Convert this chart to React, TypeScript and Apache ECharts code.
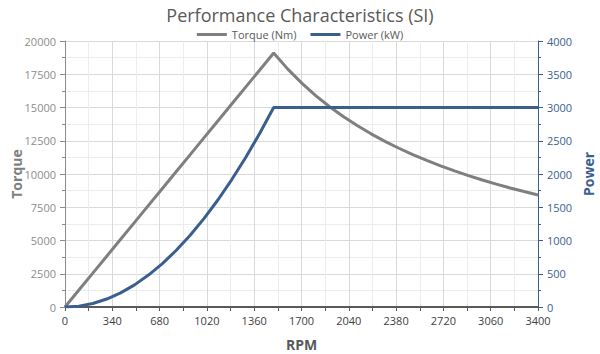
import React, { useEffect, useRef } from "react";
import * as echarts from "echarts";

const rpm = [0, 100, 200, 300, 400, 500, 600, 700, 800, 900, 1000, 1100, 1200, 1300, 1400, 1500,
  1600, 1700, 1800, 1900, 2000, 2100, 2200, 2300, 2400, 2500, 2600, 2700, 2800, 2900, 3000, 3100, 3200, 3300, 3400];
const torque = [0, 1273, 2546, 3820, 5093, 6366, 7639, 8912, 10186, 11459, 12732, 14005, 15278, 16552, 17825, 19098,
  17904, 16851, 15915, 15077, 14324, 13642, 13022, 12455, 11936, 11459, 11018, 10610, 10231, 9878, 9549, 9241, 8952, 8681, 8425];
const power = [0, 13, 53, 120, 213, 333, 480, 653, 853, 1080, 1333, 1613, 1920, 2253, 2613, 3000,
  3000, 3000, 3000, 3000, 3000, 3000, 3000, 3000, 3000, 3000, 3000, 3000, 3000, 3000, 3000, 3000, 3000, 3000, 3000];

const FONT = "'Open Sans', 'Noto Sans', sans-serif";
const GRAY = "#7f7f7f";
const BLUE = "#3a5f8f";
const plain = (v: number) => String(v);

export default function App() {
  const ref = useRef<HTMLDivElement>(null);
  useEffect(() => {
    const chart = echarts.init(ref.current!, null, { renderer: "svg" });
    chart.setOption({
      animation: false,
      textStyle: { fontFamily: FONT },
      title: {
        text: "Performance Characteristics (SI)",
        left: "center",
        top: 1,
        textStyle: { fontFamily: FONT, fontSize: 18, fontWeight: "normal", color: "#595959" },
      },
      legend: {
        top: 24,
        left: "center",
        itemWidth: 30,
        itemHeight: 3,
        itemGap: 14,
        icon: "rect",
        textStyle: { fontFamily: FONT, fontSize: 11, color: "#595959" },
        data: ["Torque (Nm)", "Power (kW)"],
      },
      grid: { left: 65, right: 62, top: 41, bottom: 47, containLabel: false, outerBoundsMode: "none" },
      xAxis: {
        type: "value",
        min: 0,
        max: 3400,
        interval: 340,
        name: "RPM",
        nameLocation: "middle",
        nameGap: 30,
        nameMoveOverlap: false,
        nameTextStyle: { fontFamily: FONT, fontSize: 14, fontWeight: "bold", color: "#595959" },
        axisLine: { lineStyle: { color: "#595959", width: 2 } },
        axisTick: { show: true, length: 4, lineStyle: { color: "#595959" } },
        minorTick: { show: true, splitNumber: 2, length: 4, lineStyle: { color: "#595959" } },
        axisLabel: { fontFamily: FONT, fontSize: 11, color: "#404040", margin: 8, formatter: plain },
        splitLine: { show: true, lineStyle: { color: "#d9d9d9" } },
        minorSplitLine: { show: true, lineStyle: { color: "#ececec" } },
      },
      yAxis: [
        {
          type: "value",
          min: 0,
          max: 20000,
          interval: 2500,
          name: "Torque",
          nameLocation: "middle",
          nameGap: 42,
          nameMoveOverlap: false,
          nameTextStyle: { fontFamily: FONT, fontSize: 14, fontWeight: "bold", color: GRAY },
          axisLine: { show: true, lineStyle: { color: "#8c8c8c" } },
          axisTick: { show: true, length: 5, lineStyle: { color: "#8c8c8c" } },
          minorTick: { show: true, splitNumber: 2, length: 3, lineStyle: { color: "#8c8c8c" } },
          axisLabel: { fontFamily: FONT, fontSize: 11, color: "#8c8c8c", margin: 9, formatter: plain },
          splitLine: { show: true, lineStyle: { color: "#d9d9d9" } },
          minorSplitLine: { show: true, lineStyle: { color: "#ececec" } },
        },
        {
          type: "value",
          min: 0,
          max: 4000,
          interval: 500,
          name: "Power",
          nameLocation: "middle",
          nameGap: 43,
          nameMoveOverlap: false,
          nameTextStyle: { fontFamily: FONT, fontSize: 14, fontWeight: "bold", color: BLUE },
          axisLine: { show: true, lineStyle: { color: BLUE } },
          axisTick: { show: true, length: 5, lineStyle: { color: BLUE } },
          minorTick: { show: true, splitNumber: 2, length: 3, lineStyle: { color: BLUE } },
          axisLabel: { fontFamily: FONT, fontSize: 11, color: BLUE, margin: 9, formatter: plain },
          splitLine: { show: false },
        },
      ],
      series: [
        {
          name: "Torque (Nm)",
          type: "line",
          yAxisIndex: 0,
          showSymbol: false,
          data: rpm.map((r, i) => [r, torque[i]]),
          lineStyle: { color: GRAY, width: 3 },
          itemStyle: { color: GRAY },
        },
        {
          name: "Power (kW)",
          type: "line",
          yAxisIndex: 1,
          showSymbol: false,
          data: rpm.map((r, i) => [r, power[i]]),
          lineStyle: { color: BLUE, width: 3 },
          itemStyle: { color: BLUE },
        },
      ],
    });
    return () => chart.dispose();
  }, []);
  return <div ref={ref} style={{ width: 600, height: 354, position: "absolute", left: 0, top: 0 }} />;
}
